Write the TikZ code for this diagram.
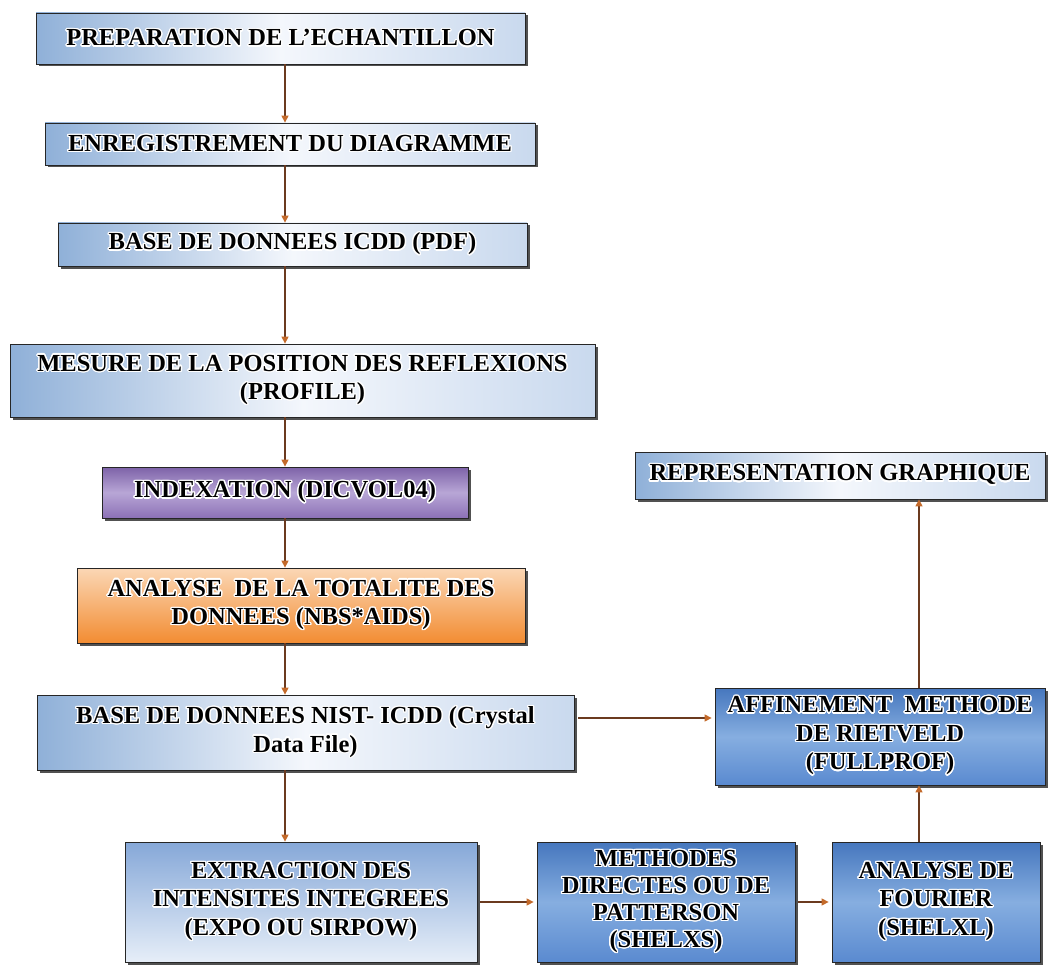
\documentclass[tikz,border=0pt]{standalone}
\usepackage{fontspec}
\setmainfont{Liberation Serif}
\usepackage{xcolor}
\usepackage{contour}
\usepackage{tikz}
\usetikzlibrary{arrows.meta, shadows}

\contourlength{1.3pt}
\contournumber{20}
\newcommand{\glow}[1]{\contour{white}{#1}}

\definecolor{paleblue}{HTML}{8FB0D8}
\definecolor{palemid}{HTML}{F4F7FC}
\definecolor{paleedge}{HTML}{C9D9EE}
\definecolor{skytop}{HTML}{86A8D8}
\definecolor{skybot}{HTML}{E6EEF8}
\definecolor{deeptop}{HTML}{4677BE}
\definecolor{deepmid}{HTML}{86AEE0}
\definecolor{deepbot}{HTML}{5A8AD0}
\definecolor{violettop}{HTML}{7D62A8}
\definecolor{violetmid}{HTML}{B8A6D6}
\definecolor{violetbot}{HTML}{8C71B6}
\definecolor{ambertop}{HTML}{FBD7B5}
\definecolor{amberbot}{HTML}{F28C32}
\definecolor{linkline}{HTML}{6B3A1F}
\definecolor{linktip}{HTML}{C46A2A}

\begin{document}
\begin{tikzpicture}[
  x=1pt, y=-1pt,
  stage/.style={
    rectangle,
    draw=black!85,
    line width=0.8pt,
    #1,
    drop shadow={shadow xshift=2.5pt, shadow yshift=-2.5pt, fill=black!80, opacity=0.85},
    font=\fontsize{24.5}{28.5}\selectfont\bfseries,
    align=center,
    inner sep=2pt
  },
  pale/.style={left color=paleblue, right color=paleedge, middle color=palemid},
  sky/.style={top color=skytop, bottom color=skybot},
  deep/.style={top color=deeptop, bottom color=deepbot, middle color=deepmid},
  violet/.style={top color=violettop, bottom color=violetbot, middle color=violetmid},
  amber/.style={top color=ambertop, bottom color=amberbot},
  flow/.style={
    -{Triangle[length=7pt, width=7pt, color=linktip]},
    line width=1.3pt,
    draw=linkline
  }
]
\useasboundingbox (0,0) rectangle (1048,968);

% Main column
\node[stage=pale, minimum width=489pt, minimum height=51pt] (prep) at (280.5,38.5) {\glow{PREPARATION DE L’ECHANTILLON}};
\node[stage=pale, minimum width=490pt, minimum height=42pt] (enreg) at (290,144) {\glow{ENREGISTREMENT DU DIAGRAMME}};
\node[stage=pale, minimum width=469pt, minimum height=43pt] (icdd) at (292.5,244.5) {\glow{BASE DE DONNEES ICDD (PDF)}};
\node[stage=pale, minimum width=585pt, minimum height=73pt] (mesure) at (302.5,380.5) {\glow{MESURE DE LA POSITION DES REFLEXIONS}\\\glow{(PROFILE)}};
\node[stage=violet, minimum width=366pt, minimum height=51pt] (index) at (285,492.5) {\glow{INDEXATION (DICVOL04)}};
\node[stage=amber, minimum width=448pt, minimum height=75pt] (totalite) at (301,605.5) {\glow{ANALYSE\ \ DE LA TOTALITE DES}\\\glow{DONNEES (NBS*AIDS)}};
\node[stage=pale, minimum width=537pt, minimum height=75pt] (nist) at (305.5,732.5) {\glow{BASE DE DONNEES NIST- ICDD (Crystal}\\\glow{Data File)}};

% Bottom row
\node[stage=sky, minimum width=352pt, minimum height=120pt] (extract) at (301,902) {\glow{EXTRACTION DES}\\\glow{INTENSITES INTEGREES}\\\glow{(EXPO OU SIRPOW)}};
\node[stage=deep, minimum width=258pt, minimum height=120pt, font=\fontsize{24.5}{27}\selectfont\bfseries] (methodes) at (666,902) {\glow{METHODES}\\\glow{DIRECTES OU DE}\\\glow{PATTERSON}\\\glow{(SHELXS)}};
\node[stage=deep, minimum width=208pt, minimum height=120pt] (fourier) at (936,902) {\glow{ANALYSE DE}\\\glow{FOURIER}\\\glow{(SHELXL)}};

% Right column
\node[stage=deep, minimum width=330pt, minimum height=97pt] (affine) at (880,736.5) {\glow{AFFINEMENT\ \ METHODE}\\\glow{DE RIETVELD}\\\glow{(FULLPROF)}};
\node[stage=pale, minimum width=410pt, minimum height=47pt] (repr) at (840,475.5) {\glow{REPRESENTATION GRAPHIQUE}};

% Connections
\coordinate (axis) at (285,0);
\coordinate (hlink) at (0,718);
\coordinate (riser) at (919,0);
\draw[flow] (prep.south -| axis) -- (enreg.north -| axis);
\draw[flow] (enreg.south -| axis) -- (icdd.north -| axis);
\draw[flow] (icdd.south -| axis) -- (mesure.north -| axis);
\draw[flow] (mesure.south -| axis) -- (index.north -| axis);
\draw[flow] (index.south -| axis) -- (totalite.north -| axis);
\draw[flow] (totalite.south -| axis) -- (nist.north -| axis);
\draw[flow] (nist.south -| axis) -- (extract.north -| axis);
\draw[flow, shorten <=4pt, shorten >=3pt] (nist.east |- hlink) -- (affine.west |- hlink);
\draw[flow, shorten <=3pt, shorten >=3pt] (extract.east) -- (methodes.west);
\draw[flow, shorten <=3pt, shorten >=3pt] (methodes.east) -- (fourier.west);
\draw[flow] (fourier.north -| riser) -- (affine.south -| riser);
\draw[flow] (affine.north -| riser) -- (repr.south -| riser);
\end{tikzpicture}
\end{document}
